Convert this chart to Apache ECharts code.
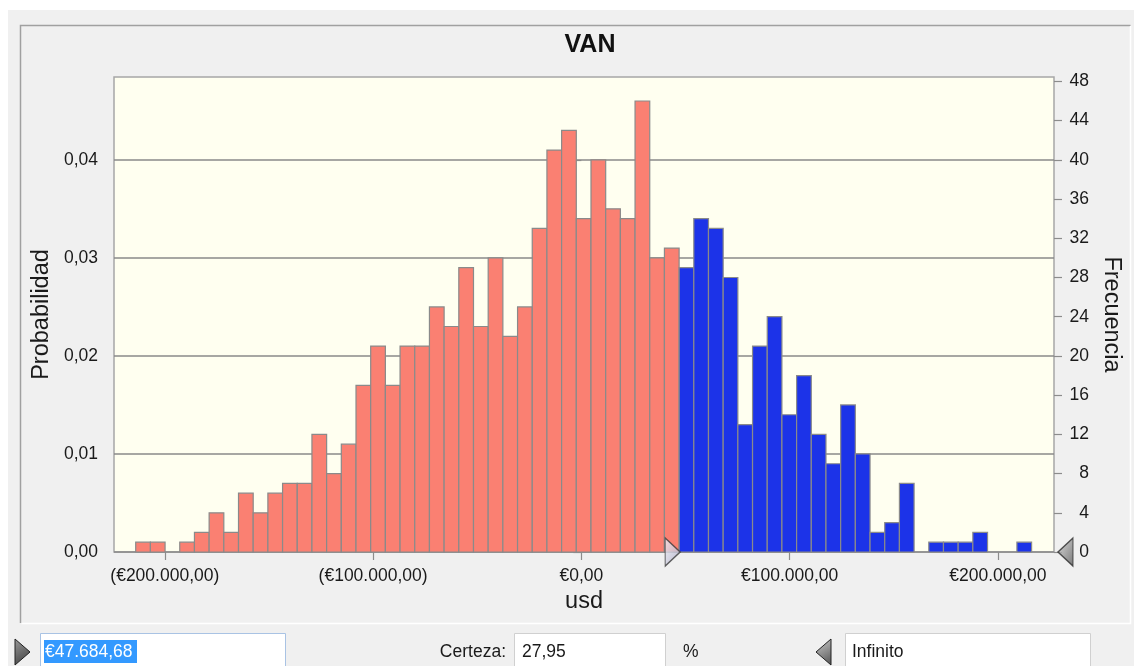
<!DOCTYPE html>
<html>
<head>
<meta charset="utf-8">
<script src="https://cdn.jsdelivr.net/npm/echarts@6/dist/echarts.min.js"></script>
<style>
  html, body { margin: 0; padding: 0; background: #ffffff; }
  #chart { width: 1134px; height: 666px; }
</style>
</head>
<body>
<div id="chart"></div>
<script>
// Forecast histogram of VAN (net present value), 1000 trials
const binLow = -213980;   // left edge of the first bin
const binStep = 7052;     // width of each bin
const frequency = [
  1, 1, 0, 1, 2, 4, 2, 6, 4, 6, 7, 7, 12, 8, 11, 17, 21, 17, 21, 21,
  25, 23, 29, 23, 30, 22, 25, 33, 41, 43, 34, 40, 35, 34, 46, 30, 31,
  29, 34, 33, 28, 13, 21, 24, 14, 18, 12, 9, 15, 10, 2, 3, 7, 0, 1, 1,
  1, 2, 0, 0, 1
];
const trials = 1000;
const xRange = [-224400, 226950];
const freqAxisMax = 48.45;
const xTicks = [-200000, -100000, 0, 100000, 200000];
const probTicks = [0, 0.01, 0.02, 0.03, 0.04];
const freqTicks = [0, 4, 8, 12, 16, 20, 24, 28, 32, 36, 40, 44, 48];
const threshold = 47684.68;   // lower certainty bound
const certainty = 27.95;      // % of trials above the bound
const upperBoundText = 'Infinito';

const FONT = 'Arial, "Liberation Sans", sans-serif';
const TXT = '#1a1a1a';

function euro(v) {
  const parts = Math.abs(v).toFixed(2).split('.');
  const intPart = parts[0].replace(/\B(?=(\d{3})+(?!\d))/g, '.');
  const s = '\u20ac' + intPart + ',' + parts[1];
  return v < 0 ? '(' + s + ')' : s;
}
function comma(v, d) { return v.toFixed(d).replace('.', ','); }

const bins = frequency.map((c, i) => [binLow + i * binStep, binLow + (i + 1) * binStep, c]);

const chart = echarts.init(document.getElementById('chart'), null, { renderer: 'canvas' });

const tickStyle = { lineStyle: { color: '#8c8c8c', width: 1.2 }, length: 8 };

chart.setOption({
  backgroundColor: '#ffffff',
  animation: false,
  title: {
    text: 'VAN',
    left: 585,
    top: 28,
    textAlign: 'center',
    textStyle: { fontFamily: FONT, fontSize: 25, fontWeight: 'bold', color: '#111' }
  },
  grid: {
    left: 114, right: 80, top: 77, bottom: 114,
    show: true,
    backgroundColor: '#fffff0',
    borderColor: '#a6a6a6',
    borderWidth: 1.5
  },
  xAxis: {
    type: 'value',
    min: xRange[0],
    max: xRange[1],
    name: 'usd',
    nameLocation: 'middle',
    nameGap: 36,
    nameTextStyle: { fontFamily: FONT, fontSize: 23.5, color: TXT },
    axisLine: { show: false },
    axisTick: Object.assign({ show: true, customValues: xTicks }, tickStyle),
    axisLabel: {
      customValues: xTicks,
      formatter: euro,
      margin: 15,
      fontFamily: FONT, fontSize: 17.5, color: TXT
    },
    splitLine: { show: false }
  },
  yAxis: [
    {
      type: 'value',
      position: 'left',
      min: 0,
      max: freqAxisMax / trials,
      interval: 0.01,
      name: 'Probabilidad',
      nameLocation: 'middle',
      nameRotate: 90,
      nameGap: 57,
      nameTextStyle: { fontFamily: FONT, fontSize: 23.5, color: TXT },
      axisLine: { show: false },
      axisTick: Object.assign({ show: true, customValues: probTicks }, tickStyle),
      axisLabel: {
        customValues: probTicks,
        formatter: v => comma(v, 2),
        margin: 16,
        fontFamily: FONT, fontSize: 17.5, color: TXT
      },
      splitLine: { show: true, lineStyle: { color: '#8a8a8a', width: 1.5 } }
    },
    {
      type: 'value',
      position: 'right',
      min: 0,
      max: freqAxisMax,
      interval: 4,
      name: 'Frecuencia',
      nameLocation: 'middle',
      nameRotate: -90,
      nameGap: 45,
      nameTextStyle: { fontFamily: FONT, fontSize: 23.5, color: TXT },
      axisLine: { show: false },
      axisTick: Object.assign({ show: true, customValues: freqTicks }, tickStyle),
      axisLabel: {
        customValues: freqTicks,
        align: 'right',
        margin: 35,
        fontFamily: FONT, fontSize: 17.5, color: TXT
      },
      splitLine: { show: false }
    }
  ],
  series: [
    {
      name: 'Frecuencia',
      type: 'custom',
      xAxisIndex: 0,
      yAxisIndex: 1,
      data: bins,
      encode: { x: [0, 1], y: 2 },
      renderItem: function (params, api) {
        const lo = api.value(0), hi = api.value(1), c = api.value(2);
        if (!c) return null;
        const p0 = api.coord([lo, 0]);
        const p1 = api.coord([hi, c]);
        return {
          type: 'rect',
          shape: { x: p0[0], y: p1[1], width: p1[0] - p0[0], height: p0[1] - p1[1] },
          style: {
            fill: hi > threshold ? '#1c33e8' : '#fa8072',
            stroke: '#8a8a8a',
            lineWidth: 1.2
          }
        };
      },
      z: 3
    },
    {
      // lower bound grabber on the value axis
      type: 'scatter',
      xAxisIndex: 0,
      yAxisIndex: 1,
      data: [[threshold, 0]],
      symbol: 'path://M0,0 L15,14 L0,28 Z',
      symbolSize: [15, 28],
      symbolOffset: [-8, 0],
      clip: false,
      silent: true,
      itemStyle: {
        color: new echarts.graphic.LinearGradient(0, 0, 1, 1, [
          { offset: 0, color: '#f4f4fa' },
          { offset: 1, color: '#a8a8c4' }
        ]),
        borderColor: '#3a3a3a',
        borderWidth: 1.3
      },
      z: 10
    },
    {
      // upper bound grabber at the right end of the axis
      type: 'scatter',
      xAxisIndex: 0,
      yAxisIndex: 1,
      data: [[xRange[1], 0]],
      symbol: 'path://M15,0 L0,14 L15,28 Z',
      symbolSize: [15, 28],
      symbolOffset: [11.5, 0],
      clip: false,
      silent: true,
      itemStyle: {
        color: new echarts.graphic.LinearGradient(0, 0, 1, 1, [
          { offset: 0, color: '#d8d8d8' },
          { offset: 1, color: '#5a5a5a' }
        ]),
        borderColor: '#2a2a2a',
        borderWidth: 1.3
      },
      z: 10
    }
  ],
  graphic: [
    // panel background
    { type: 'rect', z: -100, silent: true, shape: { x: 8, y: 10, width: 1126, height: 656 }, style: { fill: '#f0f0f0' } },
    // etched frame around the chart
    { type: 'polyline', z: -90, silent: true, shape: { points: [[20.5, 623], [20.5, 25.5], [1130.5, 25.5]] }, style: { stroke: '#a0a0a0', lineWidth: 1.5, fill: null } },
    { type: 'polyline', z: -90, silent: true, shape: { points: [[21.5, 623.5], [1130.5, 623.5], [1130.5, 26]] }, style: { stroke: '#ffffff', lineWidth: 1.5, fill: null } },

    // bottom controls: lower bound
    { type: 'polygon', silent: true, shape: { points: [[15, 639], [30, 652], [15, 665]] },
      style: { fill: new echarts.graphic.LinearGradient(0, 0, 1, 1, [{ offset: 0, color: '#9a9a9a' }, { offset: 1, color: '#3a3a3a' }]), stroke: '#222', lineWidth: 1 } },
    { type: 'rect', silent: true, shape: { x: 40.5, y: 633.5, width: 245, height: 40 }, style: { fill: '#ffffff', stroke: '#a9c3e4', lineWidth: 1 } },
    { type: 'rect', silent: true, shape: { x: 44, y: 640, width: 93, height: 23 }, style: { fill: '#3399ff' } },
    { type: 'text', silent: true, x: 45, y: 652, style: { text: euro(threshold), fill: '#ffffff', font: '17.5px ' + FONT, textVerticalAlign: 'middle' } },

    // certainty
    { type: 'text', silent: true, x: 506, y: 652, style: { text: 'Certeza:', fill: TXT, font: '17.5px ' + FONT, textAlign: 'right', textVerticalAlign: 'middle' } },
    { type: 'rect', silent: true, shape: { x: 514.5, y: 633.5, width: 151, height: 40 }, style: { fill: '#ffffff', stroke: '#d0d0d0', lineWidth: 1 } },
    { type: 'text', silent: true, x: 522, y: 652, style: { text: comma(certainty, 2), fill: TXT, font: '17.5px ' + FONT, textVerticalAlign: 'middle' } },
    { type: 'text', silent: true, x: 683, y: 652, style: { text: '%', fill: TXT, font: '17.5px ' + FONT, textVerticalAlign: 'middle' } },

    // upper bound
    { type: 'polygon', silent: true, shape: { points: [[831, 639], [816, 652], [831, 665]] },
      style: { fill: new echarts.graphic.LinearGradient(0, 0, 1, 1, [{ offset: 0, color: '#d0d0d0' }, { offset: 1, color: '#505050' }]), stroke: '#222', lineWidth: 1 } },
    { type: 'rect', silent: true, shape: { x: 845.5, y: 633.5, width: 245, height: 40 }, style: { fill: '#ffffff', stroke: '#d0d0d0', lineWidth: 1 } },
    { type: 'text', silent: true, x: 852, y: 652, style: { text: upperBoundText, fill: TXT, font: '17.5px ' + FONT, textVerticalAlign: 'middle' } }
  ]
});
</script>
</body>
</html>
